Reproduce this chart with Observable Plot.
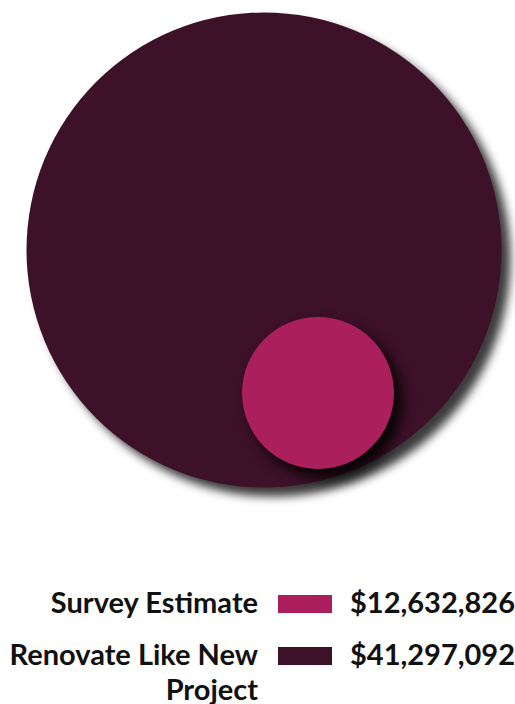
<!DOCTYPE html>
<html>
<head>
<meta charset="utf-8">
<script src="https://cdn.jsdelivr.net/npm/d3@7"></script>
<script src="https://cdn.jsdelivr.net/npm/@observablehq/plot@0.6"></script>
<style>
  html, body { margin: 0; padding: 0; background: #fff; }
  body { width: 515px; height: 704px; overflow: hidden; font-family: Lato, "Open Sans", sans-serif; position: relative; }
  #chart svg { display: block; }
  .legend { position: absolute; left: 0; top: 584px; width: 515px; }
  .row { display: flex; align-items: flex-start; margin-bottom: 17px; }
  .label { width: 261px; text-align: right; font-weight: 700; font-size: 29px; line-height: 35px; color: #111; }
  .swatch { width: 54px; height: 18px; margin-left: 20px; margin-top: 11px; flex: none; }
  .value { margin-left: 18px; font-weight: 700; font-size: 29px; line-height: 35px; color: #111; white-space: nowrap; }
</style>
</head>
<body>
<div id="chart"></div>
<div class="legend" id="legend"></div>
<script>
const categories = ["Survey Estimate", "Renovate Like New Project"];
const values = [12632826, 41297092];
const colors = ["#ac1f5d", "#3d1128"];
const valueLabels = ["$12,632,826", "$41,297,092"];

// layout (not data)
const W = 515, H = 540;
const bigCenter = [263.5, 249.5];
const smallOffset = [54, 143];
const radiusRange = [4.8, 237.5];

const data = categories.map((c, i) => ({category: c, value: values[i], color: colors[i]}));
const maxV = d3.max(values);
const big = data.filter(d => d.value === maxV);
const small = data.filter(d => d.value !== maxV);
const px = d => d.value === maxV ? bigCenter[0] : bigCenter[0] + smallOffset[0];
const py = d => d.value === maxV ? bigCenter[1] : bigCenter[1] + smallOffset[1];

const chart = Plot.plot({
  width: W,
  height: H,
  margin: 0,
  x: {type: "identity", axis: null},
  y: {type: "identity", axis: null},
  r: {type: "linear", domain: [0, maxV], range: radiusRange},
  color: {type: "identity"},
  marks: [
    Plot.dot(big, {x: px, y: py, r: "value", fill: "color", stroke: null, fillOpacity: 1}),
    Plot.dot(small, {x: px, y: py, r: "value", fill: "color", stroke: null, fillOpacity: 1})
  ]
});
const groups = chart.querySelectorAll('g[aria-label="dot"]');
if (groups[0]) groups[0].style.filter = "drop-shadow(9px 9px 5px rgba(25,25,25,0.85))";
if (groups[1]) groups[1].style.filter = "drop-shadow(8px 9px 7px rgba(0,0,0,0.9))";
document.getElementById("chart").appendChild(chart);

const legend = d3.select("#legend");
const rows = legend.selectAll(".row").data(data).join("div").attr("class", "row");
rows.append("div").attr("class", "label")
  .html(d => d.category === "Renovate Like New Project" ? "Renovate Like New<br>Project" : d.category);
rows.append("div").attr("class", "swatch").style("background", d => d.color);
rows.append("div").attr("class", "value").text((d, i) => valueLabels[i]);
</script>
</body>
</html>
